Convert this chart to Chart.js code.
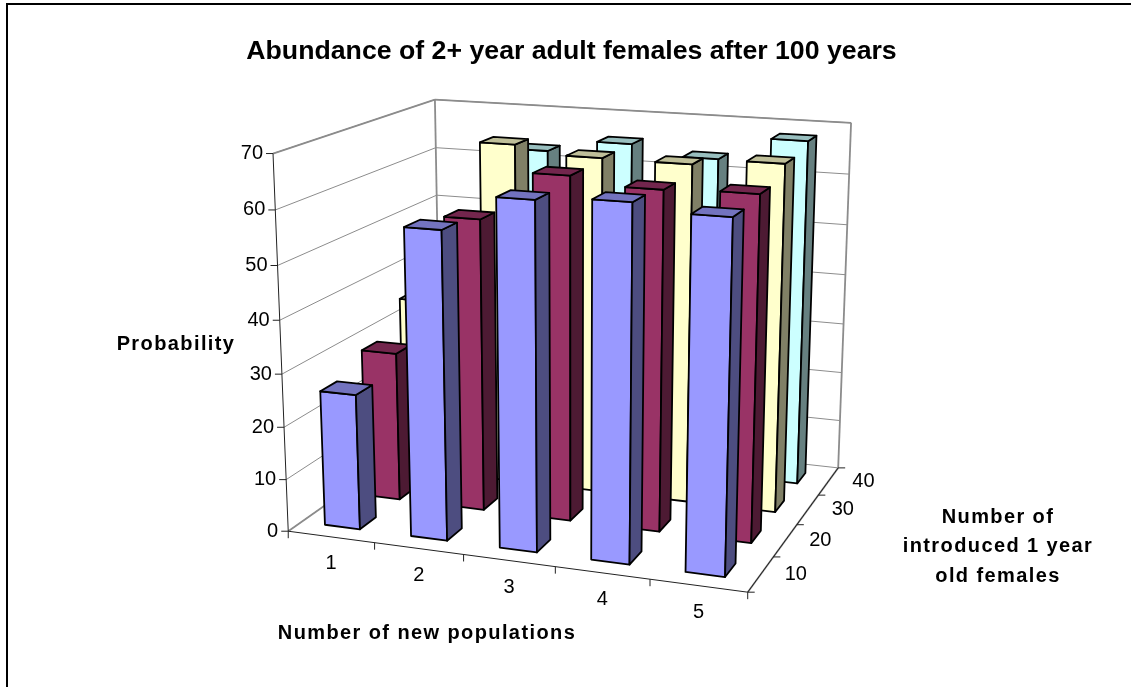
<!DOCTYPE html>
<html>
<head>
<meta charset="utf-8">
<title>Abundance of 2+ year adult females after 100 years</title>
<script src="https://cdn.jsdelivr.net/npm/chart.js@4/dist/chart.umd.js"></script>
<style>
    html, body { margin: 0; padding: 0; background: #fff; overflow: hidden; }
    canvas { display: block; }
</style>
</head>
<body>
<canvas id="chart" width="1131" height="687"></canvas>
<script>
const populations = ['1', '2', '3', '4', '5'];
const introduced = ['10', '20', '30', '40'];
const females10 = [25.8, 57.5, 64, 64.8, 63.5];
const females20 = [29, 56, 65.2, 63.8, 64.2];
const females30 = [35, 67, 65.5, 65.4, 66.6];
const females40 = [40, 63, 65.4, 63.5, 68];

const titleText = 'Abundance of 2+ year adult females after 100 years';
const yTitle = 'Probability';
const xTitle = 'Number of new populations';
const zTitle = ['Number of', 'introduced 1 year', 'old females'];

// plot box corners as [x, z, y] in 0..1 and where they land on the canvas
const boxCorners = [
    [0, 0, 0, 288, 530],
    [0, 0, 1, 273, 154],
    [0, 1, 1, 435, 99],
    [1, 1, 1, 851, 123],
    [1, 1, 0, 838, 467],
    [1, 0, 0, 748, 593],
    [0, 1, 0, 441, 425],
];

const barShare = 0.41;
const depthShare = 0.39;
const barNudge = -0.004;

const solve = (m, r) => {
    const n = r.length;
    for (let i = 0; i < n; i++) {
        let pivot = i;
        for (let k = i + 1; k < n; k++) {
            if (Math.abs(m[k][i]) > Math.abs(m[pivot][i])) pivot = k;
        }
        [m[i], m[pivot]] = [m[pivot], m[i]];
        [r[i], r[pivot]] = [r[pivot], r[i]];
        for (let k = i + 1; k < n; k++) {
            const f = m[k][i] / m[i][i];
            for (let j = i; j < n; j++) m[k][j] -= f * m[i][j];
            r[k] -= f * r[i];
        }
    }
    const out = new Array(n).fill(0);
    for (let i = n - 1; i >= 0; i--) {
        let s = r[i];
        for (let j = i + 1; j < n; j++) s -= m[i][j] * out[j];
        out[i] = s / m[i][i];
    }
    return out;
};

// least squares fit of the perspective camera through the box corners
const fitCamera = () => {
    const rows = [];
    const rhs = [];
    boxCorners.forEach(([x, z, y, u, v]) => {
        rows.push([x, y, z, 1, 0, 0, 0, 0, -u * x, -u * y, -u * z]);
        rhs.push(u);
        rows.push([0, 0, 0, 0, x, y, z, 1, -v * x, -v * y, -v * z]);
        rhs.push(v);
    });
    const ata = [];
    const atb = [];
    for (let i = 0; i < 11; i++) {
        ata.push([]);
        atb.push(rows.reduce((sum, row, k) => sum + row[i] * rhs[k], 0));
        for (let j = 0; j < 11; j++) {
            ata[i].push(rows.reduce((sum, row) => sum + row[i] * row[j], 0));
        }
    }
    return solve(ata, atb);
};

const cam = fitCamera();

const project = (x, z, y) => {
    const w = cam[8] * x + cam[9] * y + cam[10] * z + 1;
    return [
        (cam[0] * x + cam[1] * y + cam[2] * z + cam[3]) / w,
        (cam[4] * x + cam[5] * y + cam[6] * z + cam[7]) / w,
    ];
};

const normX = (scale, px) => (px - scale.left) / scale.width;
const normY = (scale, px) => (scale.bottom - px) / scale.height;

const quad = (ctx, pts, fill) => {
    ctx.beginPath();
    pts.forEach((p, i) => (i ? ctx.lineTo(p[0], p[1]) : ctx.moveTo(p[0], p[1])));
    ctx.closePath();
    if (fill) {
        ctx.fillStyle = fill;
        ctx.fill();
    }
    ctx.stroke();
};

const shade = (hex, k) => {
    const n = parseInt(hex.slice(1), 16);
    const c = [n >> 16, (n >> 8) & 255, n & 255].map((v) => Math.round(v * k));
    return `rgb(${c.join(',')})`;
};

class Bar3DController extends Chart.BarController {
    draw() {
        const ctx = this.chart.ctx;
        const { x: xScale, y: yScale, z: zScale } = this.chart.scales;
        const dataset = this.getDataset();
        const zc = normX(zScale, zScale.getPixelForValue(dataset.label));
        const halfZ = depthShare / introduced.length / 2;
        const color = dataset.backgroundColor;

        ctx.save();
        ctx.strokeStyle = '#000';
        ctx.lineWidth = 1.8;
        ctx.lineJoin = 'round';
        this._cachedMeta.data.forEach((bar) => {
            const x0 = normX(xScale, bar.x - bar.width / 2) + barNudge;
            const x1 = normX(xScale, bar.x + bar.width / 2) + barNudge;
            const z0 = zc - halfZ;
            const z1 = zc + halfZ;
            const h = normY(yScale, bar.y);
            quad(ctx, [project(x0, z0, 0), project(x1, z0, 0), project(x1, z0, h), project(x0, z0, h)], color);
            quad(ctx, [project(x1, z0, 0), project(x1, z1, 0), project(x1, z1, h), project(x1, z0, h)], shade(color, 0.5));
            quad(ctx, [project(x0, z0, h), project(x1, z0, h), project(x1, z1, h), project(x0, z1, h)], shade(color, 0.75));
        });
        ctx.restore();
    }
}
Bar3DController.id = 'bar3d';
Bar3DController.defaults = Chart.BarController.defaults;
Bar3DController.overrides = Chart.BarController.overrides;
Chart.register(Bar3DController);

const segment = (ctx, a, b) => {
    ctx.beginPath();
    ctx.moveTo(a[0], a[1]);
    ctx.lineTo(b[0], b[1]);
    ctx.stroke();
};

// walls, gridlines and the frame go under the bars
const wallsPlugin = {
    id: 'walls',
    beforeDatasetsDraw(chart) {
        const { ctx } = chart;
        const { y: yScale } = chart.scales;
        ctx.save();
        ctx.strokeStyle = '#000';
        ctx.lineWidth = 2;
        ctx.beginPath();
        ctx.moveTo(7, 687);
        ctx.lineTo(7, 4);
        ctx.lineTo(1131, 4);
        ctx.stroke();

        ctx.strokeStyle = '#8c8c8c';
        ctx.lineWidth = 1;
        yScale.ticks.forEach((tick) => {
            const h = normY(yScale, yScale.getPixelForValue(tick.value));
            segment(ctx, project(0, 0, h), project(0, 1, h));
            segment(ctx, project(0, 1, h), project(1, 1, h));
        });
        ctx.lineWidth = 1.8;
        segment(ctx, project(0, 1, 0), project(0, 1, 1));
        segment(ctx, project(1, 1, 0), project(1, 1, 1));
        segment(ctx, project(0, 0, 1), project(0, 1, 1));
        segment(ctx, project(0, 1, 1), project(1, 1, 1));
        segment(ctx, project(0, 0, 0), project(0, 1, 0));
        segment(ctx, project(1, 0, 0), project(1, 1, 0));
        ctx.restore();
    },
    afterDatasetsDraw(chart) {
        const { ctx } = chart;
        const { x: xScale, y: yScale, z: zScale } = chart.scales;
        const cellX = 1 / populations.length;
        const cellZ = 1 / introduced.length;
        ctx.save();
        ctx.strokeStyle = '#222';
        ctx.lineWidth = 1;
        ctx.fillStyle = '#000';
        ctx.font = '20px "Liberation Sans"';
        ctx.textBaseline = 'middle';

        segment(ctx, project(0, 0, 0), project(0, 0, 1));
        segment(ctx, project(0, 0, 0), project(1, 0, 0));
        segment(ctx, project(1, 0, 0), project(1, 1, 0));

        ctx.textAlign = 'right';
        yScale.ticks.forEach((tick) => {
            const h = normY(yScale, yScale.getPixelForValue(tick.value));
            const p = project(0, 0, h);
            segment(ctx, [p[0] - 7, p[1]], p);
            ctx.fillText(tick.label, p[0] - 10, p[1]);
        });

        ctx.textAlign = 'center';
        populations.forEach((label) => {
            const p = project(normX(xScale, xScale.getPixelForValue(label)), 0, 0);
            ctx.fillText(label, p[0], p[1] + 27);
        });
        for (let i = 0; i <= populations.length; i++) {
            const p = project(i * cellX, 0, 0);
            segment(ctx, p, [p[0], p[1] + 7]);
        }

        introduced.forEach((label) => {
            const p = project(1, normX(zScale, zScale.getPixelForValue(label)), 0);
            ctx.fillText(label, p[0] + 35, p[1]);
        });
        for (let i = 0; i <= introduced.length; i++) {
            const p = project(1, i * cellZ, 0);
            segment(ctx, p, [p[0] + 7, p[1]]);
        }

        ctx.font = 'bold 20px "Liberation Sans"';
        ctx.letterSpacing = '1.4px';
        ctx.fillText(yTitle, 176, 344);
        ctx.fillText(xTitle, 427, 633);
        zTitle.forEach((line, i) => ctx.fillText(line, 998, 517 + i * 29.5));
        ctx.restore();
    },
};

Chart.defaults.font.family = '"Liberation Sans", Arial, sans-serif';
Chart.defaults.color = '#000';

const rowStyle = { categoryPercentage: 1, barPercentage: barShare, grouped: false };

new Chart(document.getElementById('chart'), {
    type: 'bar3d',
    data: {
        labels: populations,
        datasets: [
            { label: introduced[0], data: females10, backgroundColor: '#9999FF', ...rowStyle },
            { label: introduced[1], data: females20, backgroundColor: '#993366', ...rowStyle },
            { label: introduced[2], data: females30, backgroundColor: '#FFFFCC', ...rowStyle },
            { label: introduced[3], data: females40, backgroundColor: '#CCFFFF', ...rowStyle },
        ],
    },
    options: {
        responsive: false,
        animation: false,
        events: [],
        layout: { padding: { left: 12 } },
        plugins: {
            legend: { display: false },
            tooltip: { enabled: false },
            title: {
                display: true,
                text: titleText,
                font: { size: 26.7, weight: 'bold' },
                padding: { top: 36, bottom: 10 },
            },
        },
        scales: {
            x: { display: false },
            y: { display: false, min: 0, max: 70, ticks: { stepSize: 10 } },
            z: { type: 'category', axis: 'x', position: 'bottom', labels: introduced, display: false },
        },
    },
    plugins: [wallsPlugin],
});
</script>
</body>
</html>
